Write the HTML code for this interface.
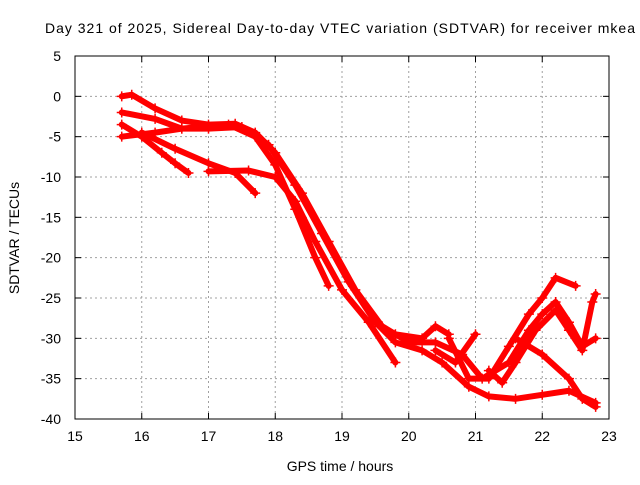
<!DOCTYPE html>
<html><head><meta charset="utf-8"><style>
body{margin:0;background:#fff;font-family:"Liberation Sans",sans-serif}
svg text{font-family:"Liberation Sans",sans-serif;font-size:14px;fill:#000}
</style></head><body>
<svg id="c" width="640" height="480">
<text x="45" y="33" textLength="590" lengthAdjust="spacing">Day 321 of 2025, Sidereal Day-to-day VTEC variation (SDTVAR) for receiver mkea</text>
<text x="340" y="471" text-anchor="middle">GPS time / hours</text>
<text transform="translate(19,238) rotate(-90)" text-anchor="middle">SDTVAR / TECUs</text>
<g id="grid"></g><g id="marks"></g>
<rect x="75" y="56" width="534" height="363" fill="none" stroke="#000" stroke-width="1"/>
<g id="ticks"></g>
</svg>
<script>
const xTicks=[15,16,17,18,19,20,21,22,23];
const yTicks=[5,0,-5,-10,-15,-20,-25,-30,-35,-40];
const track1=[[15.7,0],[15.85,0.2],[16.2,-1.5],[16.6,-3],[17,-3.5],[17.4,-3.4],[17.7,-4.5],[18.0,-7],[18.4,-12],[18.8,-18],[19.2,-24],[19.6,-28.5],[20.0,-30.5],[20.4,-30.5],[20.8,-32],[21.1,-35],[21.5,-33],[21.8,-29],[22.0,-27],[22.2,-25.5],[22.4,-28],[22.6,-31],[22.8,-30]];
const track2=[[15.7,-2],[16.2,-2.8],[16.6,-4],[17,-4],[17.5,-3.8],[17.9,-6],[18.3,-11],[18.7,-17],[19.1,-23],[19.5,-28],[19.8,-30.5],[20.2,-31.5],[20.5,-33],[20.9,-36],[21.2,-37.2],[21.6,-37.5],[22,-37],[22.4,-36.5],[22.8,-38]];
const track3=[[15.7,-5],[16.2,-4.5],[16.6,-4],[17,-3.7],[17.3,-3.5],[17.7,-5],[18.0,-8.5],[18.3,-14],[18.6,-20],[18.8,-23.5]];
const track4=[[15.7,-3.5],[16,-5],[16.3,-7],[16.5,-8.3],[16.7,-9.5]];
const track5=[[16.0,-4.5],[16.5,-6.5],[17.0,-8.3],[17.4,-9.5],[17.7,-12]];
const track6=[[17,-9.3],[17.6,-9.2],[18,-10],[18.3,-13],[18.6,-18],[19,-24],[19.4,-28],[19.8,-33]];
const track7=[[19.8,-29.5],[20.2,-30],[20.4,-28.5],[20.6,-29.5]];
const track8=[[20.4,-31.5],[20.7,-33],[21.0,-29.5]];
const track9=[[20.6,-30],[20.9,-35],[21.2,-35],[21.5,-31],[21.8,-27],[22,-25],[22.2,-22.5],[22.5,-23.5]];
const track10=[[21.2,-34],[21.4,-35.5],[21.6,-33],[21.9,-29],[22.2,-26.5],[22.4,-29],[22.6,-31.5],[22.75,-25.5],[22.8,-24.5]];
const track11=[[21.6,-30],[22,-32],[22.4,-35],[22.6,-37.5],[22.8,-38.5]];
const tracks=[track1,track2,track3,track4,track5,track6,track7,track8,track9,track10,track11];
const X0=75,X1=609,Y0=419,Y1=56;
const sx=v=>X0+(v-15)/8*(X1-X0);
const sy=v=>Y0-(v+40)/45*(Y0-Y1);
const NS='http://www.w3.org/2000/svg';
const grid=document.getElementById('grid'),ticks=document.getElementById('ticks'),marks=document.getElementById('marks');
function mk(tag,at,parent){const e=document.createElementNS(NS,tag);for(const k in at)e.setAttribute(k,at[k]);parent.appendChild(e);return e;}
xTicks.forEach(t=>{const x=sx(t);
 if(t>15&&t<23){const g=mk('line',{x1:x,x2:x,y1:Y1,y2:Y0,stroke:'#a0a0a0','stroke-dasharray':'2,3'},grid);
 
 }
 mk('line',{x1:x,x2:x,y1:Y0,y2:Y0-6,stroke:'#000'},ticks);mk('line',{x1:x,x2:x,y1:Y1,y2:Y1+6,stroke:'#000'},ticks);
 const l=mk('text',{x:x,y:Y0+22,'text-anchor':'middle'},ticks);l.textContent=t;
 
 });
yTicks.forEach(t=>{const y=sy(t);
 if(t<5&&t>-40){const g=mk('line',{x1:X0,x2:X1,y1:y,y2:y,stroke:'#a0a0a0','stroke-dasharray':'2,3'},grid);
 
 }
 mk('line',{x1:X0,x2:X0+6,y1:y,y2:y,stroke:'#000'},ticks);mk('line',{x1:X1,x2:X1-6,y1:y,y2:y,stroke:'#000'},ticks);
 const l=mk('text',{x:X0-14,y:y+5,'text-anchor':'end'},ticks);l.textContent=t;
 
 });
tracks.forEach((tr,i)=>{
 const p=mk('polyline',{points:tr.map(d=>sx(d[0])+','+sy(d[1])).join(' '),fill:'none',stroke:'#f00','stroke-width':6,'stroke-linejoin':'round','stroke-linecap':'round'},marks);
 
 
 tr.forEach(d=>{const x=sx(d[0]),y=sy(d[1]);
  const m=mk('path',{d:`M${x-5},${y}H${x+5}M${x},${y-5}V${y+5}`,stroke:'#f00','stroke-width':1.5},marks);
  
  });
});
</script>
</body></html>
